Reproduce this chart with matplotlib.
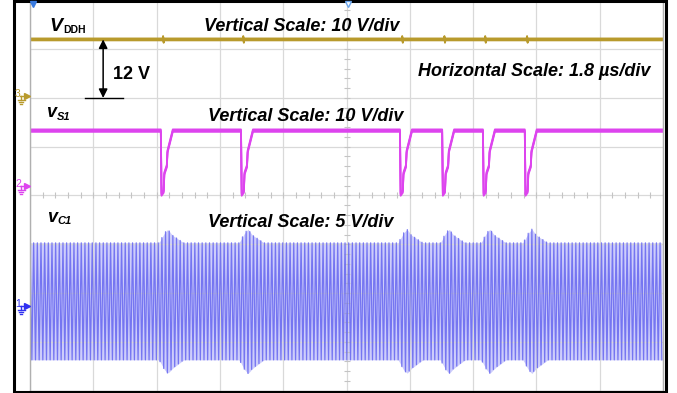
import matplotlib.pyplot as plt
import numpy as np
from matplotlib.patches import Rectangle

plt.rcParams['font.family'] = ['Liberation Sans', 'DejaVu Sans']

# scope screen: 10 div x 1.8 us, 8 vertical div
t_per_div = 1.8
n_hdiv = 10
n_vdiv = 8

# ground marker position (div from centre) and scale (V/div) per channel
vddh_gnd, vddh_scale = 2.0, 10.0
vs1_gnd, vs1_scale = 0.2, 10.0
vc1_gnd, vc1_scale = -2.27, 5.0

# instants (us) where v_S1 drops
fall_times = [3.72, 6.00, 10.52, 11.72, 12.88, 14.07]

# V_DDH: 12 V with a small glitch at each switching instant
vddh_level = 12.0
glitch_dt = [0.0, 0.015, 0.03, 0.045]
glitch_v = [12.0, 12.5, 11.5, 12.0]

# one v_S1 notch, relative to its falling instant
vs1_high = 11.3
notch_dt = [0.0, 0.02, 0.08, 0.10, 0.17, 0.19, 0.26, 0.34]
notch_v = [11.3, -1.8, -1.2, 2.5, 4.0, 7.0, 9.0, 11.3]

# v_C1 envelope (V) and the bump after each notch
vc1_top, vc1_bot = 6.5, -5.5
burst_dt = [-0.05, 0.10, 0.20, 0.32, 0.65]
burst_top = [6.5, 7.5, 7.9, 7.3, 6.5]
burst_bot = [-5.5, -6.5, -6.9, -6.4, -5.5]
vc1_freq = 9.6  # MHz

t_end = t_per_div * n_hdiv

# build the traces from the read points
vddh_t, vddh_v = [0.0], [vddh_level]
vs1_t, vs1_v = [0.0], [vs1_high]
env_t, env_top, env_bot = [0.0], [vc1_top], [vc1_bot]
for t0 in fall_times:
    vddh_t += [t0 + 0.05 + d for d in glitch_dt]
    vddh_v += glitch_v
    vs1_t += [t0 + d for d in notch_dt]
    vs1_v += notch_v
    env_t += [t0 + d for d in burst_dt]
    env_top += burst_top
    env_bot += burst_bot
vddh_t.append(t_end); vddh_v.append(vddh_level)
vs1_t.append(t_end); vs1_v.append(vs1_high)
env_t.append(t_end); env_top.append(vc1_top); env_bot.append(vc1_bot)

vddh_y = vddh_gnd + np.array(vddh_v) / vddh_scale
vs1_y = vs1_gnd + np.array(vs1_v) / vs1_scale

tc = np.arange(0, t_end + 1e-9, 0.5 / vc1_freq)
top_c = vc1_gnd + np.interp(tc, env_t, env_top) / vc1_scale
bot_c = vc1_gnd + np.interp(tc, env_t, env_bot) / vc1_scale
vc1_y = np.where(np.arange(len(tc)) % 2 == 0, top_c, bot_c)

fig = plt.figure(figsize=(6.77, 3.93), dpi=100)
W, H = 677, 393
ax = fig.add_axes([30 / W, 2.4 / H, 633 / W, 390.2 / H])
ax.set_xlim(0, t_end)
ax.set_ylim(-n_vdiv / 2, n_vdiv / 2)
ax.set_xticks(np.arange(0, t_end + 1e-9, t_per_div))
ax.set_yticks(np.arange(-4, 5, 1))
ax.grid(True, color='#d9d9d9', lw=0.9)
ax.tick_params(length=0, labelbottom=False, labelleft=False)
for s in ax.spines.values():
    s.set_color('#b0b0b0')
    s.set_linewidth(1.0)

# minor ticks on the centre lines
mx = np.arange(0, t_end + 1e-9, t_per_div / 5)
ax.plot(mx, np.zeros_like(mx), ls='none', marker='|', ms=4, mew=0.8, color='#c4c4c4')
my = np.arange(-4, 4.01, 0.2)
ax.plot(np.full_like(my, t_end / 2), my, ls='none', marker='_', ms=4, mew=0.8, color='#c4c4c4')

# V_DDH trace (noisy band)
for dy in (-0.02, 0.0, 0.02):
    ax.plot(vddh_t, vddh_y + dy, color='#b89a2c', lw=1.3)
# v_S1 trace
for dy in (-0.025, 0.0, 0.025):
    ax.plot(vs1_t, vs1_y + dy, color='#dd44ee', lw=1.3)
# v_C1 trace
ax.fill_between(tc, bot_c, top_c, color='#cdcdfb', lw=0)
ax.plot(tc, vc1_y, color='#6666f0', lw=0.9, alpha=0.85)

# 12 V arrow between V_DDH and its ground
t_arrow = 2.08
ax.annotate('', xy=(t_arrow, vddh_gnd + vddh_level / vddh_scale), xytext=(t_arrow, vddh_gnd),
            arrowprops=dict(arrowstyle='<|-|>', color='black', lw=1.1, mutation_scale=13,
                            shrinkA=0, shrinkB=0))
ax.plot([1.56, 2.64], [vddh_gnd, vddh_gnd], color='black', lw=1.0)

# overlay in pixel units for frame and labels
ov = fig.add_axes([0, 0, 1, 1])
ov.set_xlim(0, W)
ov.set_ylim(H, 0)
ov.axis('off')
ov.patch.set_alpha(0)
ov.add_patch(Rectangle((13.5, 1.2), 652, 390.3, fill=False, lw=2.2, ec='black'))

bi = dict(fontweight='bold', fontstyle='italic', va='baseline', ha='left', color='black')
ov.text(204, 31, 'Vertical Scale: 10 V/div', fontsize=13, **bi)
ov.text(208, 121, 'Vertical Scale: 10 V/div', fontsize=13, **bi)
ov.text(208, 227, 'Vertical Scale: 5 V/div', fontsize=13, **bi)
ov.text(418, 76, 'Horizontal Scale: 1.8 µs/div', fontsize=13, **bi)
ov.text(113, 79, '12 V', fontsize=13, fontweight='bold', va='baseline', ha='left')

ov.text(49, 31, 'V', fontsize=14, **bi)
ov.text(63, 33, 'DDH', fontsize=7.5, fontweight='bold', va='baseline', ha='left')
ov.text(46, 117, 'v', fontsize=13, **bi)
ov.text(57, 120, 'S1', fontsize=8, **bi)
ov.text(47, 222, 'v', fontsize=13, **bi)
ov.text(57, 224, 'C1', fontsize=8, **bi)

# channel ground markers on the left
for num, yp, col in [('3', 96, '#b89a2c'), ('2', 186, '#dd44ee'), ('1', 306, '#3030f0')]:
    ov.text(15, yp + 1, num, fontsize=7.5, color=col, va='baseline', ha='left')
    ov.plot([20, 26], [yp, yp], color=col, lw=1.0)
    ov.plot([27], [yp], marker='>', ms=4, color=col)
    ov.plot([21, 21], [yp, yp + 4], color=col, lw=1.0)
    for i, hw in enumerate([3.5, 2.3, 1.0]):
        ov.plot([21 - hw, 21 + hw], [yp + 4 + 1.8 * i] * 2, color=col, lw=1.0)

# trigger markers at the top
ov.plot([33], [3.5], marker='v', ms=5, color='#3a7be0')
ov.plot([348], [3.5], marker='v', ms=5, mfc='white', mec='#6aa6ee', mew=1)

fig.savefig('out.png', dpi=100)
